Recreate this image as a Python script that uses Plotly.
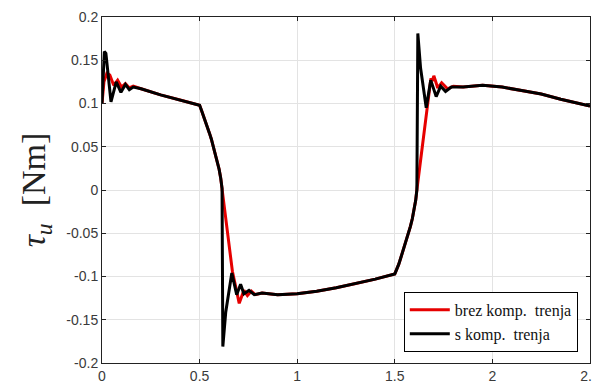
import plotly.graph_objects as go

# ---- data ----
t_black = [0.0, 0.012, 0.02, 0.046, 0.073, 0.097, 0.12, 0.14, 0.16, 0.2, 0.3, 0.4, 0.5,
           0.51, 0.52, 0.53, 0.54, 0.55, 0.56, 0.57, 0.58, 0.59, 0.60, 0.608, 0.615, 0.619, 0.634, 0.665, 0.69, 0.71, 0.727, 0.753,
           0.78, 0.82, 0.9, 1.0, 1.1, 1.2, 1.3, 1.4, 1.5,
           1.51, 1.52, 1.53, 1.54, 1.55, 1.56, 1.57, 1.58, 1.59, 1.60, 1.607, 1.613, 1.618, 1.632, 1.661, 1.684, 1.712, 1.735, 1.76,
           1.79, 1.85, 1.95, 2.05, 2.15, 2.25, 2.35, 2.45, 2.5]
v_black = [0.100, 0.160, 0.158, 0.102, 0.125, 0.113, 0.122, 0.116, 0.119, 0.117, 0.110, 0.104, 0.098,
           0.092, 0.086, 0.079, 0.072, 0.066, 0.059, 0.051, 0.043, 0.034, 0.024, 0.014, 0.002, -0.181, -0.141, -0.096, -0.121, -0.109, -0.120, -0.116,
           -0.121, -0.119, -0.121, -0.120, -0.117, -0.113, -0.108, -0.103, -0.097,
           -0.092, -0.086, -0.079, -0.072, -0.065, -0.058, -0.050, -0.042, -0.033, -0.022, -0.012, 0.000, 0.181, 0.141, 0.095, 0.127, 0.108, 0.120, 0.114,
           0.119, 0.119, 0.121, 0.119, 0.115, 0.111, 0.105, 0.100, 0.097]

t_red = [0.0, 0.01, 0.025, 0.04, 0.06, 0.08, 0.10, 0.12, 0.14, 0.16, 0.2, 0.3, 0.4, 0.5,
         0.51, 0.52, 0.53, 0.54, 0.55, 0.56, 0.57, 0.58, 0.59, 0.60, 0.608, 0.615, 0.668, 0.703, 0.727, 0.745, 0.765, 0.785,
         0.82, 0.9, 1.0, 1.1, 1.2, 1.3, 1.4, 1.5,
         1.51, 1.52, 1.53, 1.54, 1.55, 1.56, 1.57, 1.58, 1.59, 1.60, 1.607, 1.613, 1.665, 1.685, 1.692, 1.70, 1.72, 1.74, 1.77, 1.80,
         1.85, 1.95, 2.05, 2.15, 2.25, 2.35, 2.45, 2.5]
v_red = [0.100, 0.125, 0.135, 0.133, 0.121, 0.127, 0.119, 0.123, 0.118, 0.120, 0.117, 0.110, 0.104, 0.098,
         0.092, 0.086, 0.079, 0.072, 0.066, 0.059, 0.051, 0.043, 0.034, 0.024, 0.014, 0.002, -0.094, -0.131, -0.116, -0.122, -0.117, -0.121,
         -0.119, -0.121, -0.120, -0.117, -0.113, -0.108, -0.103, -0.097,
         -0.092, -0.086, -0.079, -0.072, -0.065, -0.058, -0.050, -0.042, -0.033, -0.022, -0.012, 0.000, 0.092, 0.129, 0.126, 0.132, 0.118, 0.124, 0.117, 0.120,
         0.119, 0.121, 0.119, 0.115, 0.111, 0.105, 0.100, 0.097]

x_ticks = [0, 0.5, 1, 1.5, 2, 2.5]
x_tick_text = ["0", "0.5", "1", "1.5", "2", "2.5"]
y_ticks = [-0.2, -0.15, -0.1, -0.05, 0, 0.05, 0.1, 0.15, 0.2]
y_tick_text = ["-0.2", "-0.15", "-0.1", "-0.05", "0", "0.05", "0.1", "0.15", "0.2"]

names = ["brez komp.  trenja", "s komp.  trenja"]

fig = go.Figure()
fig.add_trace(go.Scatter(x=t_red, y=v_red, mode="lines", name=names[0],
                         line=dict(color="#e60000", width=3)))
fig.add_trace(go.Scatter(x=t_black, y=v_black, mode="lines", name=names[1],
                         line=dict(color="#000000", width=3)))

axis_common = dict(showline=True, linecolor="#222222", linewidth=1, mirror="ticks",
                   ticks="inside", ticklen=4, tickcolor="#222222",
                   showgrid=True, gridcolor="#e3e3e3", gridwidth=1, zeroline=False,
                   ticklabeloverflow="allow", automargin=False,
                   tickfont=dict(family="Arial, Liberation Sans", size=14, color="#3a3a3a"))

fig.update_xaxes(range=[0, 2.5], tickvals=x_ticks, ticktext=x_tick_text, **axis_common)
fig.update_yaxes(range=[-0.2, 0.2], tickvals=y_ticks, ticktext=y_tick_text,
                 title=dict(text="<i>τ<sub>u</sub></i>  [Nm]",
                            font=dict(family="Liberation Serif, DejaVu Serif", size=34, color="#222222"),
                            standoff=10),
                 **axis_common)

fig.update_layout(
    width=592, height=389,
    margin=dict(l=102, r=2, t=17, b=26, autoexpand=False),
    plot_bgcolor="white", paper_bgcolor="white",
    showlegend=True,
    legend=dict(x=0.975, y=0.032, xanchor="right", yanchor="bottom",
                bgcolor="white", bordercolor="black", borderwidth=1,
                font=dict(family="Liberation Serif, DejaVu Serif", size=16, color="#111111"),
                itemwidth=40, tracegroupgap=0),
)

fig.write_html("out.html")
